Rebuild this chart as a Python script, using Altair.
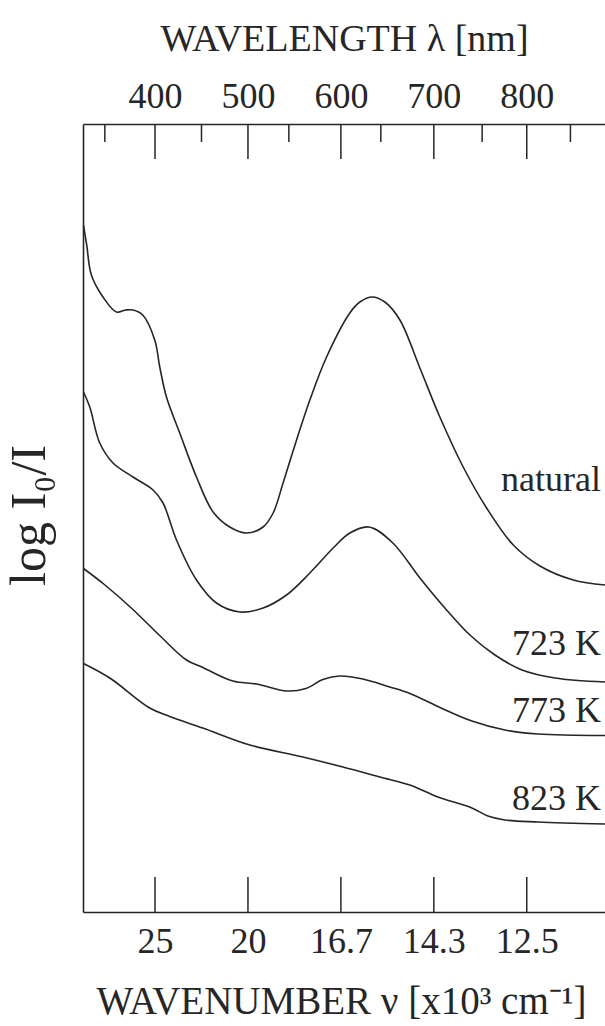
import altair as alt
import pandas as pd

# ---------------- data ----------------
series_names = ["natural", "723 K", "773 K", "823 K"]

wl_natural = [323.0, 326.5, 331.5, 344.0, 358.5, 368.5, 376.3, 386.8, 399.7, 405.1,
              412.3, 426.6, 444.6, 462.5, 480.4, 498.4, 516.3, 527.1, 537.8, 552.3,
              566.6, 584.6, 609.6, 620.4, 633.7, 647.3, 663.5, 685.0, 706.5, 731.6,
              756.8, 785.5, 814.2, 850.1, 884.2]
abs_natural = [6.87, 6.67, 6.37, 6.15, 6.00, 6.02, 6.02, 5.97, 5.72, 5.45,
               5.15, 4.79, 4.35, 4.00, 3.85, 3.79, 3.85, 3.99, 4.29, 4.72,
               5.12, 5.55, 5.99, 6.10, 6.15, 6.10, 5.92, 5.44, 4.95, 4.45,
               4.04, 3.67, 3.46, 3.32, 3.27]

wl_723 = [323.0, 329.8, 340.5, 354.8, 376.3, 397.9, 408.6, 423.1, 444.6, 466.1,
          491.2, 516.3, 541.5, 566.6, 591.7, 609.6, 630.4, 655.9, 685.0, 711.9,
          738.8, 765.8, 794.9, 830.4, 884.2]
abs_723 = [5.20, 5.05, 4.69, 4.49, 4.35, 4.22, 4.09, 3.72, 3.32, 3.09,
           3.00, 3.04, 3.17, 3.39, 3.64, 3.79, 3.85, 3.69, 3.34, 3.04,
           2.77, 2.57, 2.42, 2.34, 2.30]

wl_773 = [323.0, 344.8, 373.9, 407.2, 433.8, 451.4, 483.7, 509.5, 541.8, 562.3,
          580.6, 598.9, 623.6, 652.7, 674.2, 704.4, 741.0, 776.5, 812.1, 884.2]
abs_773 = [3.435, 3.28, 3.045, 2.745, 2.52, 2.445, 2.31, 2.28, 2.21, 2.235,
           2.325, 2.36, 2.33, 2.25, 2.185, 2.055, 1.91, 1.82, 1.78, 1.765]

wl_823 = [323.0, 351.3, 394.3, 415.8, 451.4, 502.0, 559.0, 602.1, 641.9, 674.2,
          704.4, 741.0, 758.2, 776.5, 812.1, 884.2]
abs_823 = [2.485, 2.34, 2.04, 1.955, 1.84, 1.67, 1.55, 1.45, 1.35, 1.27,
           1.15, 1.04, 0.96, 0.92, 0.90, 0.88]

# axis ticks
major_wl = [400, 500, 600, 700, 800]
minor_wl = [346, 450, 544, 643, 752, 847]
wavenumber_labels = ["25", "20", "16.7", "14.3", "12.5"]

# curve labels (value of log I0/I at the text baseline)
label_text = ["natural", "723 K", "773 K", "823 K"]
label_A = [4.21, 2.57, 1.90, 1.02]

# ---------------- tables ----------------
rows = []
for name, wl, ab in zip(series_names,
                        [wl_natural, wl_723, wl_773, wl_823],
                        [abs_natural, abs_723, abs_773, abs_823]):
    for i, (w, a) in enumerate(zip(wl, ab)):
        rows.append({"series": name, "wl": w, "A": a, "i": i})
df = pd.DataFrame(rows)
major_df = pd.DataFrame({"tick": major_wl})
minor_df = pd.DataFrame({"tick": minor_wl})
lab_df = pd.DataFrame({"text": label_text, "A": label_A})

FONT = "Liberation Serif"
INK = "#262626"
W, H = 522, 788
xscale = alt.Scale(domain=[322.5, 884.2], nice=False, zero=False)
yscale = alt.Scale(domain=[0, 7.88], nice=False, zero=False)

label_expr = " : ".join(
    f"datum.value == {v} ? '{t}'" for v, t in zip(major_wl, wavenumber_labels)
) + " : ''"

lines = alt.Chart(df).mark_line(
    interpolate="catmull-rom", color=INK, strokeWidth=1.6
).encode(
    x=alt.X("wl:Q", scale=xscale, axis=alt.Axis(
        orient="top", values=major_wl, ticks=False, tickSize=0, grid=False,
        labelFont=FONT, labelFontSize=36, labelColor=INK, labelPadding=17,
        labelBaseline="alphabetic", labelFlush=False, labelOverlap=False,
        domainColor=INK, domainWidth=1.6,
        title="WAVELENGTH λ [nm]", titleFont=FONT, titleFontSize=38,
        titleFontWeight="normal", titleColor=INK, titleX=261, titleY=-74,
        titleAlign="center", titleBaseline="alphabetic")),
    y=alt.Y("A:Q", scale=yscale, axis=alt.Axis(
        orient="left", labels=False, ticks=False, tickSize=0, grid=False,
        domainColor=INK, domainWidth=1.6,
        title="log I₀/I", titleFont=FONT, titleFontSize=50,
        titleFontWeight="normal", titleColor=INK, titleAngle=270,
        titleX=-54, titleY=391, titleAlign="center", titleBaseline="middle")),
    detail="series:N",
    order="i:Q",
)

bottom_ticks = alt.Chart(major_df).mark_rule(color=INK, strokeWidth=1.5).encode(
    x=alt.X("tick:Q", scale=xscale, axis=alt.Axis(
        orient="bottom", values=major_wl, labelExpr=label_expr,
        ticks=False, tickSize=0, grid=False,
        labelFont=FONT, labelFontSize=36, labelColor=INK, labelPadding=40,
        labelBaseline="alphabetic", labelFlush=False, labelOverlap=False,
        domainColor=INK, domainWidth=1.6,
        title="WAVENUMBER ν [x10³ cm⁻¹]", titleFont=FONT, titleFontSize=39,
        titleFontWeight="normal", titleColor=INK, titleX=258, titleY=101,
        titleAlign="center", titleBaseline="alphabetic")),
    y=alt.value(H - 35),
    y2=alt.value(H),
)

top_major = alt.Chart(major_df).mark_rule(color=INK, strokeWidth=1.5).encode(
    x=alt.X("tick:Q", scale=xscale, axis=None),
    y=alt.value(0),
    y2=alt.value(35),
)

top_minor = alt.Chart(minor_df).mark_rule(color=INK, strokeWidth=1.5).encode(
    x=alt.X("tick:Q", scale=xscale, axis=None),
    y=alt.value(0),
    y2=alt.value(18),
)

labels = alt.Chart(lab_df).mark_text(
    font=FONT, fontSize=36, color=INK, align="right", baseline="alphabetic"
).encode(
    x=alt.value(W - 4),
    y=alt.Y("A:Q", scale=yscale, axis=None),
    text="text:N",
)

chart = alt.layer(
    lines, bottom_ticks, top_major, top_minor, labels
).resolve_axis(
    x="independent", y="independent"
).properties(
    width=W, height=H,
    padding={"left": 83, "top": 124, "right": 0, "bottom": 114},
    autosize=alt.AutoSizeParams(type="none"),
    background="white",
).configure_view(stroke="transparent")

chart.save("out.html", embed_options={"renderer": "svg", "actions": False})
